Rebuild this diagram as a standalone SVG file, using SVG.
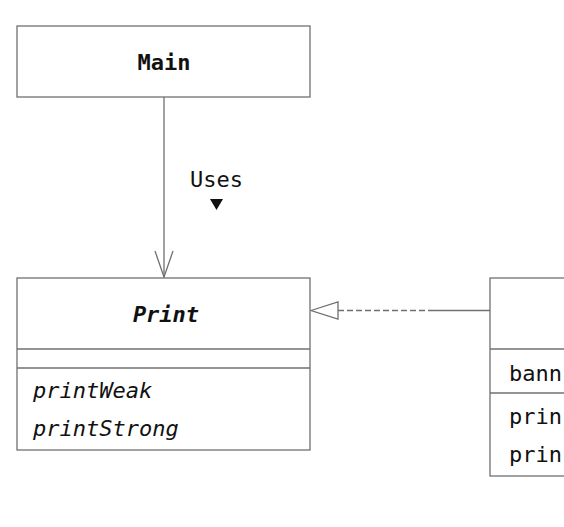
<svg xmlns="http://www.w3.org/2000/svg" width="564" height="527" viewBox="0 0 564 527">
<style>
.box{fill:#fff;stroke:#707070;stroke-width:1.3}
.ln{stroke:#707070;stroke-width:1.3;fill:none}
.t{font-family:"DejaVu Sans Mono","Liberation Mono",monospace;font-size:22px;fill:#111}
.b{font-weight:bold}
.i{font-style:italic}
</style>
<rect width="564" height="527" fill="#fff"/>
<g id="connectors">
<line class="ln" x1="164" y1="97" x2="164" y2="277"/>
<polyline class="ln" points="155,251 164,277 173,251"/>
<line class="ln" x1="338" y1="310.5" x2="432" y2="310.5" stroke-dasharray="6,3"/>
<line class="ln" x1="432" y1="310.5" x2="490" y2="310.5"/>
<polygon class="ln" points="311,310.5 338,302 338,319"/>
<text class="t" x="216.5" y="187" text-anchor="middle">Uses</text>
<polygon points="210,199 223,199 216.5,210" fill="#111"/>
</g>
<g id="Main">
<rect class="box" x="17" y="26" width="293" height="71"/>
<text class="t b" x="164" y="70" text-anchor="middle">Main</text>
</g>
<g id="Print">
<rect class="box" x="17" y="278" width="293" height="172"/>
<line class="ln" x1="17" y1="349" x2="310" y2="349"/>
<line class="ln" x1="17" y1="368" x2="310" y2="368"/>
<text class="t b i" x="166" y="322" text-anchor="middle">Print</text>
<text class="t i" x="33" y="398">printWeak</text>
<text class="t i" x="33" y="436">printStrong</text>
</g>
<g id="PrintBanner">
<rect class="box" x="490" y="278" width="200" height="198"/>
<line class="ln" x1="490" y1="349" x2="690" y2="349"/>
<line class="ln" x1="490" y1="393" x2="690" y2="393"/>
<text class="t" x="509" y="381">bann</text>
<text class="t" x="509" y="424">prin</text>
<text class="t" x="509" y="462">prin</text>
</g>
</svg>
